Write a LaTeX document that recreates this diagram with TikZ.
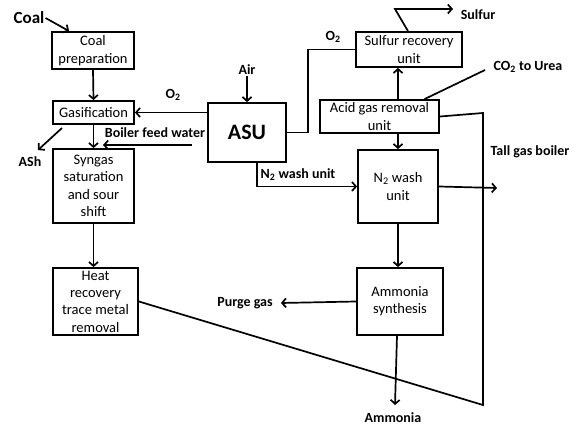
\documentclass[tikz,border=0pt]{standalone}
\usepackage{fontspec}
\setmainfont{Carlito}
\usetikzlibrary{arrows.meta}

\begin{document}
\begin{tikzpicture}[x=1pt,y=-1pt,
		unit/.style={draw, line width=1.8pt, align=center, inner sep=1pt, font=\fontsize{14.5}{17.3}\selectfont},
		lbl/.style={font=\fontsize{14}{16}\selectfont\bfseries, inner sep=1pt},
		flow/.style={line width=1.7pt},
		>={Straight Barb[length=4pt,width=9pt]}]
		\useasboundingbox (0,0) rectangle (580,435);
		% units
		\node[unit, minimum width=82pt, minimum height=37pt] (coalprep) at (93,50.5) {Coal\\preparation};
		\node[unit, minimum width=81pt, minimum height=23pt] (gasif) at (93.5,112.5) {Gasification};
		\node[unit, minimum width=81pt, minimum height=74pt] (syngas) at (93.5,186) {Syngas\\saturation\\and sour\\shift};
		\node[unit, minimum width=85pt, minimum height=67pt] (heatrec) at (95.5,301.5) {Heat\\recovery\\trace metal\\removal};
		\node[unit, minimum width=78pt, minimum height=59pt, font=\fontsize{22}{24}\selectfont\bfseries] (asu) at (247,132.5) {ASU};
		\node[unit, minimum width=106pt, minimum height=35pt] (sru) at (409,49.5) {Sulfur recovery\\unit};
		\node[unit, minimum width=119pt, minimum height=33pt] (agr) at (379.5,116.5) {Acid gas removal\\unit};
		\node[unit, minimum width=80pt, minimum height=73pt] (nwash) at (398,186.5) {N\textsubscript{2} wash\\unit};
		\node[unit, minimum width=86pt, minimum height=67pt] (synth) at (400,301.5) {Ammonia\\synthesis};
		% streams
		\node[lbl, font=\fontsize{17}{19}\selectfont\bfseries] (coal) at (29,18) {Coal};
		\node[lbl] (air) at (247,70) {Air};
		\node[lbl] (oxgas) at (173,95) {O\textsubscript{2}};
		\node[lbl] (bfw) at (155,133) {Boiler feed water};
		\node[lbl] (ash) at (30,162) {ASh};
		\node[lbl] (nwashlbl) at (298,175) {N\textsubscript{2} wash unit};
		\node[lbl] (oxsru) at (333,37) {O\textsubscript{2}};
		\node[lbl] (sulfur) at (478,15) {Sulfur};
		\node[lbl] (urea) at (528,67) {CO\textsubscript{2} to Urea};
		\node[lbl] (tailgas) at (530,152) {Tall gas boiler};
		\node[lbl] (purge) at (245,303) {Purge gas};
		\node[lbl] (ammonia) at (393,418) {Ammonia};
		\coordinate (bfwin) at (192,145);
		\coordinate (bfwout) at (103,145);
		\coordinate (ashout) at (62,128);
		\coordinate (ashend) at (38,150);
		\coordinate (sulfurbend) at (395,9);
		\coordinate (sulfurout) at (453,9);
		\coordinate (ureaout) at (485,70);
		\coordinate (tailout) at (497,188);
		\coordinate (tailtop) at (483,113);
		\coordinate (tailbot) at (483,405);
		\coordinate (nh3out) at (395,405);

		\draw[->, flow] (coal.east) -- ([xshift=18pt]coalprep.north west);
		\draw[->, flow] (coalprep.south) -- (gasif.north);
		\draw[->, flow] (gasif.south) -- (syngas.north);
		\draw[->, flow] (syngas.south) -- (syngas.south |- heatrec.north);
		\draw[->, flow] (ashout) -- (ashend);
		\draw[->, flow] (air) -- (asu);
		\draw[->, flow] (asu.west |- gasif.east) -- (gasif.east);
		\draw[->, flow] (bfwin) -- (bfwout);
		\draw[->, flow] ([xshift=10pt]asu.south) |- (nwash.west);
		\draw[flow] (asu.east) -- ++(21,0) |- (sru.west);
		\draw[->, flow] ([xshift=-1pt]sru.north) -- (sulfurbend) -- (sulfurout);
		\draw[->, flow] (agr.north -| nwash.north) -- (sru.south -| nwash.north);
		\draw[flow] ([xshift=45pt]agr.north) -- (ureaout);
		\draw[->, flow] (agr.south -| nwash.north) -- (nwash.north);
		\draw[->, flow] (nwash.east) -- (tailout);
		\draw[->, flow] (nwash.south) -- (nwash.south |- synth.north);
		\draw[->, flow] (synth.west) -- ([xshift=7pt]purge.east);
		\draw[->, flow] ([xshift=-3pt]synth.south) -- (nh3out);
		\draw[flow] (agr.east) -- (tailtop) -- (tailbot) -- (heatrec.east);
\end{tikzpicture}
\end{document}
